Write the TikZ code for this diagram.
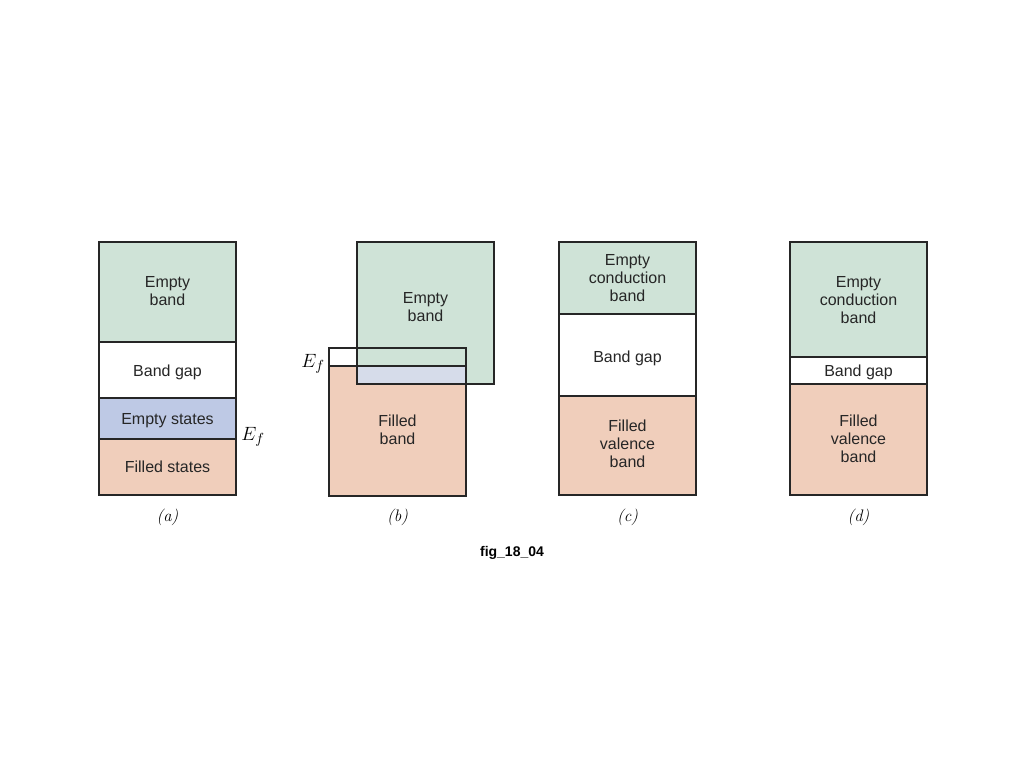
\documentclass[tikz,border=0pt]{standalone}
\usepackage{fontspec}
\setsansfont{Liberation Sans}
\begin{document}
\begin{tikzpicture}[x=0.75pt,y=-0.75pt,
  box/.style={draw=black!85,line width=1pt},
  lbl/.style={font=\sffamily\fontsize{12}{13.5}\selectfont,align=center,text=black!85},
  subcap/.style={font=\fontsize{12.5}{14}\selectfont\itshape},
  ef/.style={font=\fontsize{15}{17}\selectfont}]
\definecolor{gband}{RGB}{207,227,215}
\definecolor{bband}{RGB}{190,201,229}
\definecolor{oband}{RGB}{240,206,187}
\definecolor{lband}{RGB}{214,220,234}
\useasboundingbox (0,0) rectangle (1024,768);
\fill[white] (0,0) rectangle (1024,768);
% (a)
\fill[gband] (99,242) rectangle (236,342);
\fill[bband] (99,398) rectangle (236,439);
\fill[oband] (99,439) rectangle (236,495);
\draw[box] (99,342) -- (236,342) (99,398) -- (236,398) (99,439) -- (236,439);
\draw[box] (99,242) rectangle (236,495);
\node[lbl] (a1) at (167.5,291) {Empty\\band};
\node[lbl] (a2) at (167.5,372) {Band gap};
\node[lbl] (a3) at (167.5,421) {Empty states};
\node[lbl] (a4) at (167.5,467) {Filled states};
\node[ef] (aef) at (253,437) {$E_f$};
\node[subcap] (ca) at (167.5,517) {(a)};
% (b)
\fill[gband] (357,242) rectangle (494,384);
\fill[oband] (329,366) rectangle (466,496);
\fill[lband] (357,366) rectangle (466,384);
\draw[box] (357,242) rectangle (494,384);
\draw[box] (329,348) rectangle (466,496);
\draw[box] (329,366) -- (466,366);
\node[lbl] (b1) at (425.5,307) {Empty\\band};
\node[lbl] (b2) at (397.5,430) {Filled\\band};
\node[ef] (bef) at (313,364) {$E_f$};
\node[subcap] (cb) at (397.5,517) {(b)};
% (c)
\fill[gband] (559,242) rectangle (696,314);
\fill[oband] (559,396) rectangle (696,495);
\draw[box] (559,314) -- (696,314) (559,396) -- (696,396);
\draw[box] (559,242) rectangle (696,495);
\node[lbl] (c1) at (627.5,278) {Empty\\conduction\\band};
\node[lbl] (c2) at (627.5,358) {Band gap};
\node[lbl] (c3) at (627.5,444) {Filled\\valence\\band};
\node[subcap] (cc) at (627.5,517) {(c)};
% (d)
\fill[gband] (790,242) rectangle (927,357);
\fill[oband] (790,384) rectangle (927,495);
\draw[box] (790,357) -- (927,357) (790,384) -- (927,384);
\draw[box] (790,242) rectangle (927,495);
\node[lbl] (d1) at (858.5,300) {Empty\\conduction\\band};
\node[lbl] (d2) at (858.5,372) {Band gap};
\node[lbl] (d3) at (858.5,439) {Filled\\valence\\band};
\node[subcap] (cd) at (858.5,517) {(d)};
\node[font=\sffamily\bfseries\fontsize{10.5}{12}\selectfont] (fig) at (512,553) {fig\_18\_04};
\end{tikzpicture}
\end{document}
